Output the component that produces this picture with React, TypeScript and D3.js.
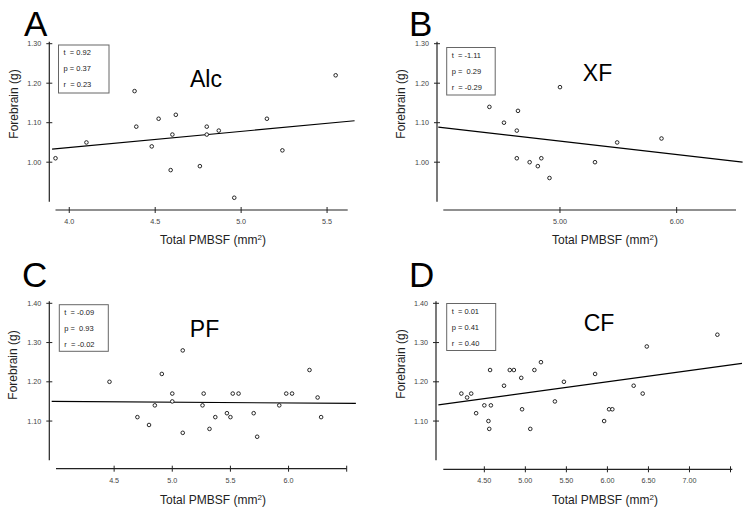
import React from 'react';
import * as d3 from 'd3';

// panel A - Alc
const alcX = [3.92, 4.1, 4.38, 4.39, 4.48, 4.52, 4.62, 4.6, 4.59, 4.76, 4.8, 4.8, 4.87, 4.96, 5.15, 5.24, 5.55];
const alcY = [1.01, 1.05, 1.18, 1.09, 1.04, 1.11, 1.12, 1.07, 0.98, 0.99, 1.09, 1.07, 1.08, 0.91, 1.11, 1.03, 1.22];
const alcFitX = [3.9, 5.66];
const alcFitY = [1.033, 1.105];
const alcStats = ['t  = 0.92', 'p = 0.37', 'r  = 0.23'];

// panel B - XF
const xfX = [4.395, 4.52, 4.64, 4.63, 4.63, 4.74, 4.81, 4.84, 4.91, 5.0, 5.3, 5.49, 5.87];
const xfY = [1.14, 1.1, 1.13, 1.08, 1.01, 1.0, 0.99, 1.01, 0.96, 1.19, 1.0, 1.05, 1.06];
const xfFitX = [3.957, 6.565];
const xfFitY = [1.089, 1.0];
const xfStats = ['t  = -1.11', 'p =  0.29', 'r  = -0.29'];

// panel C - PF
const pfX = [4.46, 4.7, 4.8, 4.85, 4.91, 5.0, 5.0, 5.09, 5.09, 5.26, 5.27, 5.32, 5.37, 5.47, 5.5, 5.52, 5.57, 5.7, 5.73, 5.92, 5.98, 6.03, 6.18, 6.25, 6.28];
const pfY = [1.2, 1.11, 1.09, 1.14, 1.22, 1.17, 1.15, 1.28, 1.07, 1.14, 1.17, 1.08, 1.11, 1.12, 1.11, 1.17, 1.17, 1.12, 1.06, 1.14, 1.17, 1.17, 1.23, 1.16, 1.11];
const pfFitX = [3.963, 6.579];
const pfFitY = [1.15, 1.145];
const pfStats = ['t  = -0.09', 'p =  0.93', 'r  = -0.02'];

// panel D - CF
const cfX = [4.22, 4.29, 4.34, 4.4, 4.5, 4.55, 4.56, 4.57, 4.58, 4.74, 4.81, 4.86, 4.95, 4.96, 5.06, 5.11, 5.19, 5.36, 5.47, 5.85, 5.96, 6.02, 6.06, 6.32, 6.43, 6.48, 7.34];
const cfY = [1.17, 1.16, 1.17, 1.12, 1.14, 1.1, 1.08, 1.23, 1.14, 1.19, 1.23, 1.23, 1.21, 1.13, 1.08, 1.23, 1.25, 1.15, 1.2, 1.22, 1.1, 1.13, 1.13, 1.19, 1.17, 1.29, 1.32];
const cfFitX = [3.94, 7.64];
const cfFitY = [1.141, 1.247];
const cfStats = ['t  = 0.01', 'p = 0.41', 'r  = 0.40'];

const ticksAB = [1.0, 1.1, 1.2, 1.3];
const ticksCD = [1.1, 1.2, 1.3, 1.4];
const xTicksA = [4.0, 4.5, 5.0, 5.5];
const xTicksB = [5.0, 6.0];
const xTicksC = [4.5, 5.0, 5.5, 6.0, 6.5];
const xTicksD = [4.5, 5.0, 5.5, 6.0, 6.5, 7.0, 7.5];

const FONT = '"Liberation Sans", Arial, sans-serif';

function Panel(props: any) {
  const { ox, oy, letter, letterX, letterY, title, titleX, titleY, xs, ys, fitX, fitY, stats,
    xDomain, xRange, yDomain, yRange, axisX, axisY, axisXEnd, xTicks, xFmt, xHideLast, yTicks,
    box, yLabelX, yLabelY, xLabelX, xLabelY } = props;
  const x = d3.scaleLinear().domain(xDomain).range(xRange);
  const y = d3.scaleLinear().domain(yDomain).range(yRange);
  const fit = d3.line<number>().x((d: number) => x(d)).y((d: number, i: number) => y(fitY[i]));
  const tickColor = '#444';
  return (
    <g transform={`translate(${ox},${oy})`} fontFamily={FONT}>
      <text x={letterX} y={letterY} fontSize={35} fill="#000">{letter}</text>
      {/* y axis */}
      <line x1={axisX} x2={axisX} y1={yRange[0]} y2={yRange[1] - 2} stroke="#222" strokeWidth={1.2} />
      {yTicks.map((t: number) => (
        <g key={t}>
          <line x1={axisX - 3} x2={axisX + 3} y1={y(t)} y2={y(t)} stroke="#222" strokeWidth={1} />
          <text x={axisX - 8} y={y(t) + 2.5} fontSize={7.2} textAnchor="end" fill={tickColor}>{t.toFixed(2)}</text>
        </g>
      ))}
      {/* x axis */}
      <line x1={xRange[0]} x2={axisXEnd} y1={axisY} y2={axisY} stroke="#222" strokeWidth={1.2} />
      {xTicks.map((t: number, i: number) => (
        <g key={t}>
          <line x1={x(t)} x2={x(t)} y1={axisY - 3} y2={axisY + 3} stroke="#222" strokeWidth={1} />
          {xHideLast && i === xTicks.length - 1 ? null : (
            <text x={x(t)} y={axisY + 14} fontSize={7.2} textAnchor="middle" fill={tickColor}>{t.toFixed(xFmt)}</text>
          )}
        </g>
      ))}
      {/* labels */}
      <text transform={`translate(${yLabelX},${yLabelY}) rotate(-90)`} fontSize={12} textAnchor="middle"
        dominantBaseline="central" fill="#222">Forebrain (g)</text>
      <text x={xLabelX} y={xLabelY} fontSize={12} textAnchor="middle" fill="#222">
        Total PMBSF (mm<tspan dy={-4} fontSize={8}>2</tspan><tspan dy={4}>)</tspan>
      </text>
      <text x={titleX} y={titleY} fontSize={23} textAnchor="middle" fill="#000">{title}</text>
      {/* stats box */}
      <rect x={box[0]} y={box[1]} width={box[2]} height={box[3]} fill="none" stroke="#666" strokeWidth={1} />
      {stats.map((s: string, i: number) => (
        <text key={i} x={box[0] + 5} y={box[1] + 10 + i * 16} fontSize={7.5} fill="#222"
          style={{ whiteSpace: 'pre' }}>{s}</text>
      ))}
      {/* fit line */}
      <path d={fit(fitX) || ''} fill="none" stroke="#000" strokeWidth={1.2} />
      {/* points */}
      {xs.map((v: number, i: number) => (
        <circle key={i} cx={x(v)} cy={y(ys[i])} r={1.8} fill="#fff" stroke="#111" strokeWidth={0.9} />
      ))}
    </g>
  );
}

export default function App() {
  return (
    <svg width={749} height={516} style={{ position: 'absolute', left: 0, top: 0, background: '#fff' }}>
      <rect width={749} height={516} fill="#fff" />
      <Panel ox={0} oy={0} letter="A" letterX={24} letterY={35.5} title="Alc" titleX={206} titleY={86.5}
        xs={alcX} ys={alcY} fitX={alcFitX} fitY={alcFitY} stats={alcStats}
        xDomain={[3.92, 5.62]} xRange={[55.5, 347.7]} yDomain={[0.9, 1.3]} yRange={[201.7, 43.7]}
        axisX={49.3} axisY={210} axisXEnd={347.7} xTicks={xTicksA} xFmt={1} xHideLast={false} yTicks={ticksAB}
        box={[58.5, 45, 50.5, 48]} yLabelX={13.5} yLabelY={104} xLabelX={213} xLabelY={244} />
      <Panel ox={375} oy={0} letter="B" letterX={34} letterY={35.5} title="XF" titleX={222.5} titleY={81}
        xs={xfX} ys={xfY} fitX={xfFitX} fitY={xfFitY} stats={xfStats}
        xDomain={[4.0, 6.5]} xRange={[68.3, 360]} yDomain={[0.9, 1.3]} yRange={[201.7, 43.7]}
        axisX={62} axisY={210} axisXEnd={361} xTicks={xTicksB} xFmt={2} xHideLast={false} yTicks={ticksAB}
        box={[71.7, 47.5, 48.5, 47.5]} yLabelX={26} yLabelY={104} xLabelX={230} xLabelY={244} />
      <Panel ox={0} oy={258} letter="C" letterX={22} letterY={28.5} title="PF" titleX={204.5} titleY={79}
        xs={pfX} ys={pfY} fitX={pfFitX} fitY={pfFitY} stats={pfStats}
        xDomain={[4.0, 6.5]} xRange={[56, 346.7]} yDomain={[1.0, 1.4]} yRange={[202.3, 45.3]}
        axisX={49.3} axisY={210.7} axisXEnd={346.7} xTicks={xTicksC} xFmt={1} xHideLast={true} yTicks={ticksCD}
        box={[59.3, 46.7, 49, 46.6]} yLabelX={12.5} yLabelY={107} xLabelX={213} xLabelY={246} />
      <Panel ox={375} oy={258} letter="D" letterX={34} letterY={28.5} title="CF" titleX={224} titleY={72.7}
        xs={cfX} ys={cfY} fitX={cfFitX} fitY={cfFitY} stats={cfStats}
        xDomain={[4.0, 7.5]} xRange={[68.3, 355.5]} yDomain={[1.0, 1.4]} yRange={[202.3, 45.3]}
        axisX={61} axisY={211.3} axisXEnd={357.3} xTicks={xTicksD} xFmt={2} xHideLast={true} yTicks={ticksCD}
        box={[71.7, 45.5, 49, 47]} yLabelX={26} yLabelY={106} xLabelX={230} xLabelY={246} />
    </svg>
  );
}
